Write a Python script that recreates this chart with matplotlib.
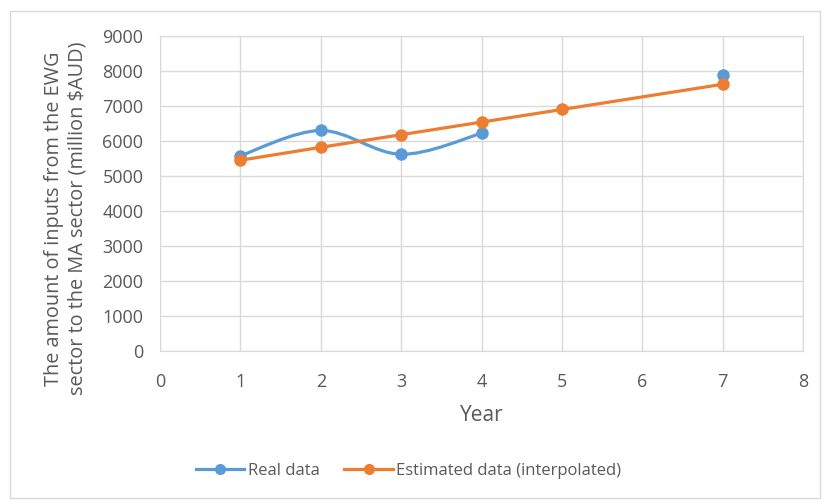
import numpy as np
import matplotlib.pyplot as plt
from matplotlib.path import Path
from matplotlib.patches import PathPatch, Rectangle
from matplotlib.lines import Line2D

plt.rcParams['font.family'] = ['Open Sans', 'DejaVu Sans']

# yearly inputs, million $AUD
real_year = [1, 2, 3, 4, 7]
real_value = [5580, 6300, 5620, 6220, 7900]
est_year = [1, 2, 3, 4, 5, 7]
est_value = [5450, 5820, 6180, 6540, 6900, 7620]

x_ticks = [0, 1, 2, 3, 4, 5, 6, 7, 8]
y_ticks = [0, 1000, 2000, 3000, 4000, 5000, 6000, 7000, 8000, 9000]

blue = '#5b9bd5'
orange = '#ed7d31'
grey_text = '#595959'
grid_c = '#d9d9d9'


def smooth_path(xs, ys):
    # bezier smoothing through the points, like a "smoothed line" chart
    pts = np.column_stack([xs, ys]).astype(float)
    n = len(pts)
    verts = [pts[0]]
    codes = [Path.MOVETO]
    for i in range(n - 1):
        p0 = pts[i - 1] if i > 0 else pts[i]
        p1, p2 = pts[i], pts[i + 1]
        p3 = pts[i + 2] if i + 2 < n else pts[i + 1]
        c1 = p1 + (p2 - p0) / 6
        c2 = p2 - (p3 - p1) / 6
        verts += [c1, c2, p2]
        codes += [Path.CURVE4] * 3
    return Path(verts, codes)


fig = plt.figure(figsize=(8.22, 5), dpi=100)
fig.patches.append(Rectangle((0.012, 0.004), 0.985, 0.975, transform=fig.transFigure,
                             fill=False, edgecolor='#d9d9d9', linewidth=1))
ax = fig.add_axes([160 / 822, 1 - 351 / 500, 643 / 822, 315 / 500])

# real data: smoothed segment for years 1-4, lone point for year 7
ax.add_patch(PathPatch(smooth_path(real_year[:4], real_value[:4]), fill=False,
                       edgecolor=blue, linewidth=2.3, zorder=3))
ax.plot(real_year, real_value, linestyle='none', marker='o', markersize=8,
        color=blue, zorder=4)
ax.plot(est_year, est_value, color=orange, linewidth=2.3, marker='o',
        markersize=8, zorder=5)

ax.set_xlim(0, 8)
ax.set_ylim(0, 9000)
ax.set_xticks(x_ticks)
ax.set_yticks(y_ticks)
ax.grid(True, color=grid_c, linewidth=1)
ax.set_axisbelow(True)
for s in ax.spines.values():
    s.set_color(grid_c)
ax.tick_params(length=0, labelsize=13, colors=grey_text)
ax.tick_params(axis='y', pad=12)
ax.tick_params(axis='x', pad=16)
ax.set_xlabel('Year', fontsize=15, color=grey_text, labelpad=10)
ax.set_ylabel('The amount of inputs from the EWG\nsector to the MA sector (million $AUD)',
              fontsize=14.3, color=grey_text)
ax.yaxis.set_label_coords(-0.113, 0.42)

handles = [Line2D([], [], color=blue, marker='o', linewidth=2.3, markersize=7),
           Line2D([], [], color=orange, marker='o', linewidth=2.3, markersize=7)]
leg = fig.legend(handles, ['Real data', 'Estimated data (interpolated)'],
                 loc='center', bbox_to_anchor=(0.497, 1 - 471 / 500), ncol=2,
                 frameon=False, fontsize=12, handlelength=2.9, columnspacing=1.5,
                 handletextpad=0.2)
for t in leg.get_texts():
    t.set_color(grey_text)

fig.savefig('out.png', dpi=100)
